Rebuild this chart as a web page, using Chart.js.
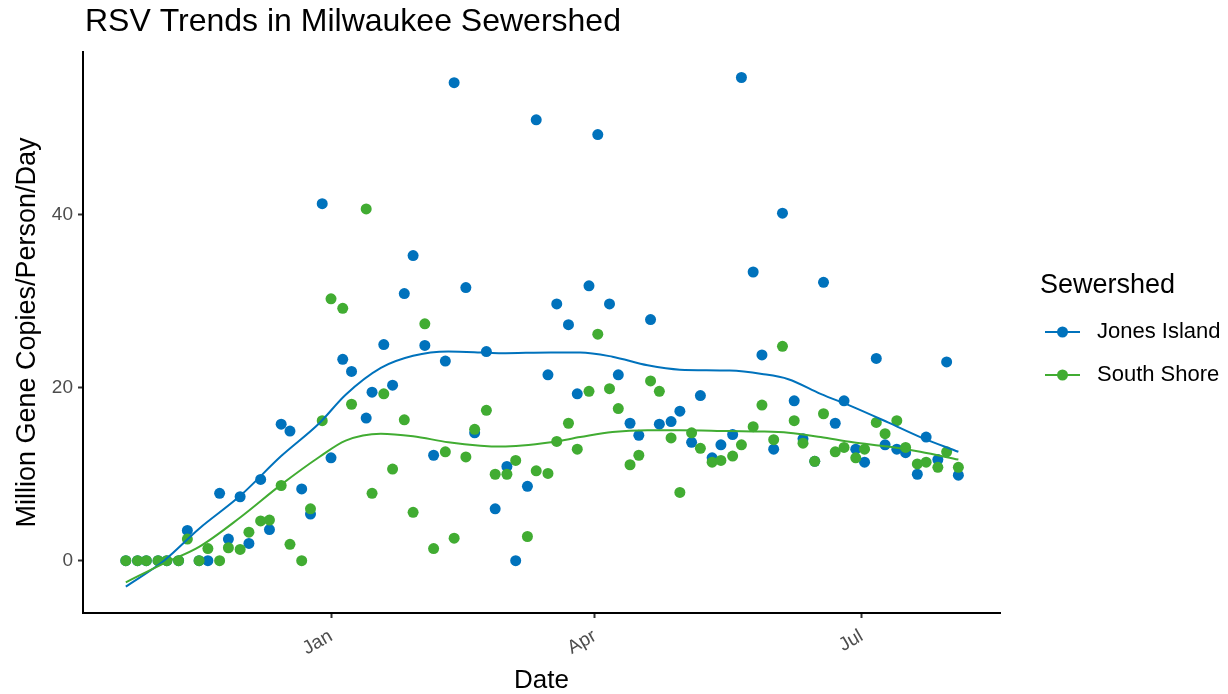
<!DOCTYPE html>
<html><head><meta charset="utf-8">
<script src="https://cdn.jsdelivr.net/npm/chart.js@4/dist/chart.umd.min.js"></script>
<style>html,body{margin:0;padding:0;background:#fff;}#wrap{position:relative;width:1228px;height:694px;}</style>
</head><body><div id="wrap"><canvas id="c" width="1228" height="694"></canvas></div>
<script>
const titleText = 'RSV Trends in Milwaukee Sewershed';
const xAxisTitle = 'Date';
const yAxisTitle = 'Million Gene Copies/Person/Day';
const legendTitle = 'Sewershed';
const seriesNames = ['Jones Island', 'South Shore'];
const seriesColors = ['#0072BC', '#41AC32'];

const sampleDates = ['2022-10-23','2022-10-27','2022-10-30','2022-11-03','2022-11-06','2022-11-10','2022-11-13','2022-11-17','2022-11-20','2022-11-24','2022-11-27','2022-12-01','2022-12-04','2022-12-08','2022-12-11','2022-12-15','2022-12-18','2022-12-22','2022-12-25','2022-12-29','2023-01-01','2023-01-05','2023-01-08','2023-01-13','2023-01-15','2023-01-19','2023-01-22','2023-01-26','2023-01-29','2023-02-02','2023-02-05','2023-02-09','2023-02-12','2023-02-16','2023-02-19','2023-02-23','2023-02-26','2023-03-02','2023-03-05','2023-03-09','2023-03-12','2023-03-16','2023-03-19','2023-03-23','2023-03-26','2023-03-30','2023-04-02','2023-04-06','2023-04-09','2023-04-13','2023-04-16','2023-04-20','2023-04-23','2023-04-27','2023-04-30','2023-05-04','2023-05-07','2023-05-11','2023-05-14','2023-05-18','2023-05-21','2023-05-25','2023-05-28','2023-06-01','2023-06-04','2023-06-08','2023-06-11','2023-06-15','2023-06-18','2023-06-22','2023-06-25','2023-06-29','2023-07-02','2023-07-06','2023-07-09','2023-07-13','2023-07-16','2023-07-20','2023-07-23','2023-07-27','2023-07-30','2023-08-03'];

const jonesIsland = [0,0,0,0,0,0,3.5,0,0,7.8,2.5,7.4,2.0,9.4,3.6,15.8,15.0,8.3,5.4,41.3,
  11.9,23.3,21.9,16.5,19.5,25.0,20.3,30.9,35.3,
  24.9,12.2,23.1,55.3,31.6,14.8,24.2,6.0,
  10.9,0,8.6,51.0,21.5,29.7,27.3,19.3,31.8,
  49.3,29.7,21.5,15.9,14.5,27.9,15.8,16.1,17.3,
  13.7,19.1,11.9,13.4,14.6,55.9,33.4,23.8,
  12.9,40.2,18.5,14.1,11.5,32.2,15.9,18.5,12.9,
  11.4,23.4,13.4,12.9,12.5,10.0,14.3,11.7,23.0,
  9.9];

const southShore = [0,0,0,0,0,0,2.5,0,1.4,0,1.5,1.3,3.3,4.6,4.7,8.7,1.9,0,6.0,16.2,
  30.3,29.2,18.1,40.7,7.8,19.3,10.6,16.3,5.6,
  27.4,1.4,12.6,2.6,12.0,15.2,17.4,10.0,
  10.0,11.6,2.8,10.4,10.1,13.8,15.9,12.9,19.6,
  26.2,19.9,17.6,11.1,12.2,20.8,19.6,14.2,7.9,
  14.8,13.0,11.4,11.6,12.1,13.4,15.5,18.0,
  14.0,24.8,16.2,13.6,11.5,17.0,12.6,13.1,11.9,
  12.9,16.0,14.7,16.2,13.1,11.2,11.4,10.8,12.6,
  10.8];

// smoothed trend lines
const smoothDates = ['2022-10-23','2022-11-05','2022-11-17','2022-12-01','2022-12-15','2022-12-28','2023-01-06','2023-01-18','2023-01-29','2023-02-10','2023-02-21','2023-02-28','2023-03-17','2023-03-27','2023-04-07','2023-04-19','2023-04-30','2023-05-17','2023-05-28','2023-06-06','2023-06-17','2023-06-28','2023-07-10','2023-07-21','2023-08-03'];
const jonesSmooth = [-3.0,0.0,3.7,7.5,12.1,15.9,19.2,22.3,23.7,24.2,24.1,24.0,24.1,24.1,23.6,22.6,22.1,22.0,21.6,21.0,19.3,17.8,16.0,14.3,12.6];
const southSmooth = [-2.5,-0.3,1.6,5.0,8.8,12.0,13.9,14.7,14.4,13.7,13.3,13.2,13.7,14.3,14.9,15.1,15.1,15.0,14.95,14.8,14.3,13.7,13.2,12.6,11.7];

const xTickDates = ['2023-01-01','2023-04-01','2023-07-01'];
const xTickLabels = ['Jan','Apr','Jul'];
const yTickValues = [0, 20, 40];

const FONT = '"Liberation Sans", Arial, Helvetica, sans-serif';
function toDay(s){ const p = s.split('-').map(Number); return Date.UTC(p[0], p[1]-1, p[2]) / 86400000; }
const day0 = toDay('2023-01-01');
const pts = (dates, vals) => dates.map((d, i) => ({x: toDay(d), y: vals[i]}));

const legendPlugin = {
  id: 'legendAndTitle',
  afterDraw(chart) {
    const ctx = chart.ctx;
    ctx.save();
    ctx.fillStyle = '#000';
    ctx.textBaseline = 'middle';
    ctx.textAlign = 'left';
    ctx.font = '32px ' + FONT;
    ctx.fillText(titleText, 85, 22);
    ctx.font = '27px ' + FONT;
    ctx.fillText(legendTitle, 1040, 286);
    ctx.font = '22px ' + FONT;
    seriesNames.forEach((n, i) => {
      const y = 332 + i * 43;
      ctx.strokeStyle = seriesColors[i];
      ctx.lineWidth = 2;
      ctx.beginPath(); ctx.moveTo(1045, y); ctx.lineTo(1080, y); ctx.stroke();
      ctx.fillStyle = seriesColors[i];
      ctx.beginPath(); ctx.arc(1062.5, y, 5.5, 0, Math.PI * 2); ctx.fill();
      ctx.fillStyle = '#000';
      ctx.fillText(n, 1097, y);
    });
    ctx.restore();
  }
};

new Chart(document.getElementById('c'), {
  type: 'scatter',
  data: {
    datasets: [
      {label: seriesNames[0] + ' points', data: pts(sampleDates, jonesIsland), backgroundColor: seriesColors[0], borderWidth: 0, pointRadius: 5.5, order: 4},
      {label: seriesNames[1] + ' points', data: pts(sampleDates, southShore), backgroundColor: seriesColors[1], borderWidth: 0, pointRadius: 5.5, order: 3},
      {label: seriesNames[0] + ' trend', data: pts(smoothDates, jonesSmooth), showLine: true, borderColor: seriesColors[0], borderWidth: 2, pointRadius: 0, cubicInterpolationMode: 'monotone', fill: false, order: 2},
      {label: seriesNames[1] + ' trend', data: pts(smoothDates, southSmooth), showLine: true, borderColor: seriesColors[1], borderWidth: 2, pointRadius: 0, cubicInterpolationMode: 'monotone', fill: false, order: 1}
    ]
  },
  options: {
    responsive: false, animation: false, devicePixelRatio: 1, events: [],
    layout: {padding: {left: 0, top: 52, right: 228, bottom: 0}},
    plugins: {legend: {display: false}, tooltip: {enabled: false}, title: {display: false}},
    scales: {
      x: {
        type: 'linear', min: day0 - 84.6, max: day0 + 228.2,
        afterFit(s) { s.height = 81; },
        afterBuildTicks(s) { s.ticks = xTickDates.map(d => ({value: toDay(d)})); },
        ticks: {
          autoSkip: false, minRotation: 30, maxRotation: 30, padding: 7, labelOffset: 0,
          color: '#4D4D4D', font: {size: 19, family: FONT},
          callback(v) { const i = xTickDates.findIndex(d => toDay(d) === v); return i >= 0 ? xTickLabels[i] : ''; }
        },
        grid: {drawOnChartArea: false, drawTicks: true, tickLength: 5, tickColor: '#333333', tickWidth: 2},
        border: {display: true, color: '#000', width: 2},
        title: {display: true, text: xAxisTitle, color: '#000', font: {size: 26, family: FONT, lineHeight: 1}, padding: {top: 0, bottom: 0}}
      },
      y: {
        type: 'linear', min: -6.05, max: 58.85,
        afterFit(s) { s.width = 83; },
        afterBuildTicks(s) { s.ticks = yTickValues.map(v => ({value: v})); },
        ticks: {padding: 5, color: '#4D4D4D', font: {size: 19, family: FONT}, callback(v) { return String(v); }},
        grid: {drawOnChartArea: false, drawTicks: true, tickLength: 5, tickColor: '#333333', tickWidth: 2},
        border: {display: true, color: '#000', width: 2},
        title: {display: true, text: yAxisTitle, color: '#000', font: {size: 27, family: FONT}, padding: {top: 11, bottom: 0}}
      }
    }
  },
  plugins: [legendPlugin]
});
</script>
</body></html>
